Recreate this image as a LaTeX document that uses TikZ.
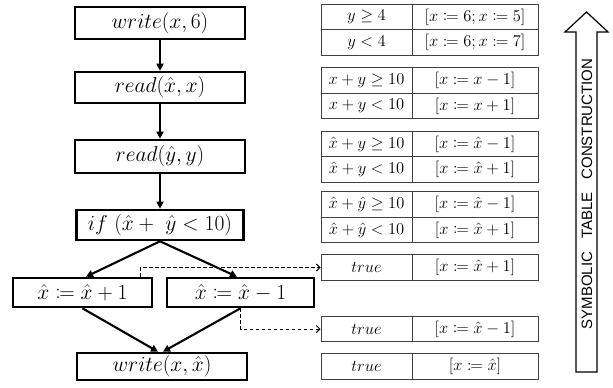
\RequirePackage{fix-cm}
\documentclass[tikz,border=0pt]{standalone}
\usepackage{mathtools}
\usepackage{fontspec}
\newfontfamily\arialfont{Liberation Sans}
\usetikzlibrary{arrows.meta,calc}
\newcommand\symrow[4]{%
  \node[lcell] (#1l) at (366.5,#2) {#3};
  \node[rcell] (#1r) at (475,#2) {#4};}
\begin{document}
\begin{tikzpicture}[x=1pt,y=-1pt,
  flow/.style={draw,line width=2.6pt,inner sep=0pt,font=\fontsize{21.5}{25}\selectfont},
  flowarrow/.style={line width=2.1pt,-{Triangle[length=7pt,width=7pt]}},
  dasharrow/.style={line width=0.9pt,dash pattern=on 3.5pt off 2.5pt,-{Straight Barb[length=3.5pt,width=7pt]}},
  cell/.style={draw=black!75,line width=1pt,inner sep=0pt,minimum height=25.5pt,font=\fontsize{16.5}{19}\selectfont},
  lcell/.style={cell,minimum width=91pt},
  rcell/.style={cell,minimum width=126pt},
  bigarrow/.style={draw,line width=1.2pt,fill=white}]
\useasboundingbox (0,0) rectangle (613,388);

% flowchart
\node[flow,minimum width=170pt,minimum height=32pt] (w1) at (160,23) {$write(x,6)$};
\node[flow,minimum width=170pt,minimum height=31pt] (r1) at (160,87.5) {$read(\hat{x},x)$};
\node[flow,minimum width=170pt,minimum height=33pt] (r2) at (160,156.5) {$read(\hat{y},y)$};
\node[flow,minimum width=167pt,minimum height=30pt] (if) at (160,225) {$if~(\hat{x}+~\hat{y}<10)$};
\node[flow,minimum width=139pt,minimum height=29pt] (a1) at (82.5,292.5) {$\hat{x}\coloneqq\hat{x}+1$};
\node[flow,minimum width=147pt,minimum height=29pt] (a2) at (240.5,292.5) {$\hat{x}\coloneqq\hat{x}-1$};
\node[flow,minimum width=170pt,minimum height=27pt] (w2) at (162,366.5) {$write(x,\hat{x})$};

\draw[flowarrow] (w1.south) -- (r1.north);
\draw[flowarrow] (r1.south) -- (r2.north);
\draw[flowarrow] (r2.south) -- (if.north);
\draw[flowarrow] (if.south) -- ($(a1.north)+(3.5,0)$);
\draw[flowarrow] (if.south) -- ($(a2.north)+(-3.5,0)$);
\draw[flowarrow] (a1.south) -- ($(w2.north)+(-4,0)$);
\draw[flowarrow] (a2.south) -- ($(w2.north)+(1,0)$);

% symbolic tables
\symrow{t1a}{17}{$y\geq 4$}{$[x\coloneqq 6; x\coloneqq 5]$}
\symrow{t1b}{42.5}{$y<4$}{$[x\coloneqq 6; x\coloneqq 7]$}
\symrow{t2a}{80.5}{$x+y\geq 10$}{$[x\coloneqq x-1]$}
\symrow{t2b}{106}{$x+y<10$}{$[x\coloneqq x+1]$}
\symrow{t3a}{144}{$\hat{x}+y\geq 10$}{$[x\coloneqq \hat{x}-1]$}
\symrow{t3b}{169.5}{$\hat{x}+y<10$}{$[x\coloneqq \hat{x}+1]$}
\symrow{t4a}{204.5}{$\hat{x}+\hat{y}\geq 10$}{$[x\coloneqq \hat{x}-1]$}
\symrow{t4b}{230}{$\hat{x}+\hat{y}<10$}{$[x\coloneqq \hat{x}+1]$}
\symrow{t5}{267.5}{$true$}{$[x\coloneqq \hat{x}+1]$}
\symrow{t6}{329}{$true$}{$[x\coloneqq \hat{x}-1]$}
\symrow{t7}{366.5}{$true$}{$[x\coloneqq \hat{x}]$}

\draw[dasharrow] ($(a1.north east)+(-13,0)$) |- (t5l.west);
\draw[dasharrow] (a2.south) |- (t6l.west);

% construction arrow
\draw[bigarrow] (576,372) -- (576,32) -- (565,32) -- (586.5,12) -- (608,32) -- (597,32) -- (597,372) -- cycle;
\node[rotate=90,font=\arialfont\fontsize{15}{18}\selectfont,inner sep=0pt] (lbl) at (587,194)
  {SYMBOLIC\hspace{13pt}TABLE\hspace{13pt}CONSTRUCTION};
\end{tikzpicture}
\end{document}
